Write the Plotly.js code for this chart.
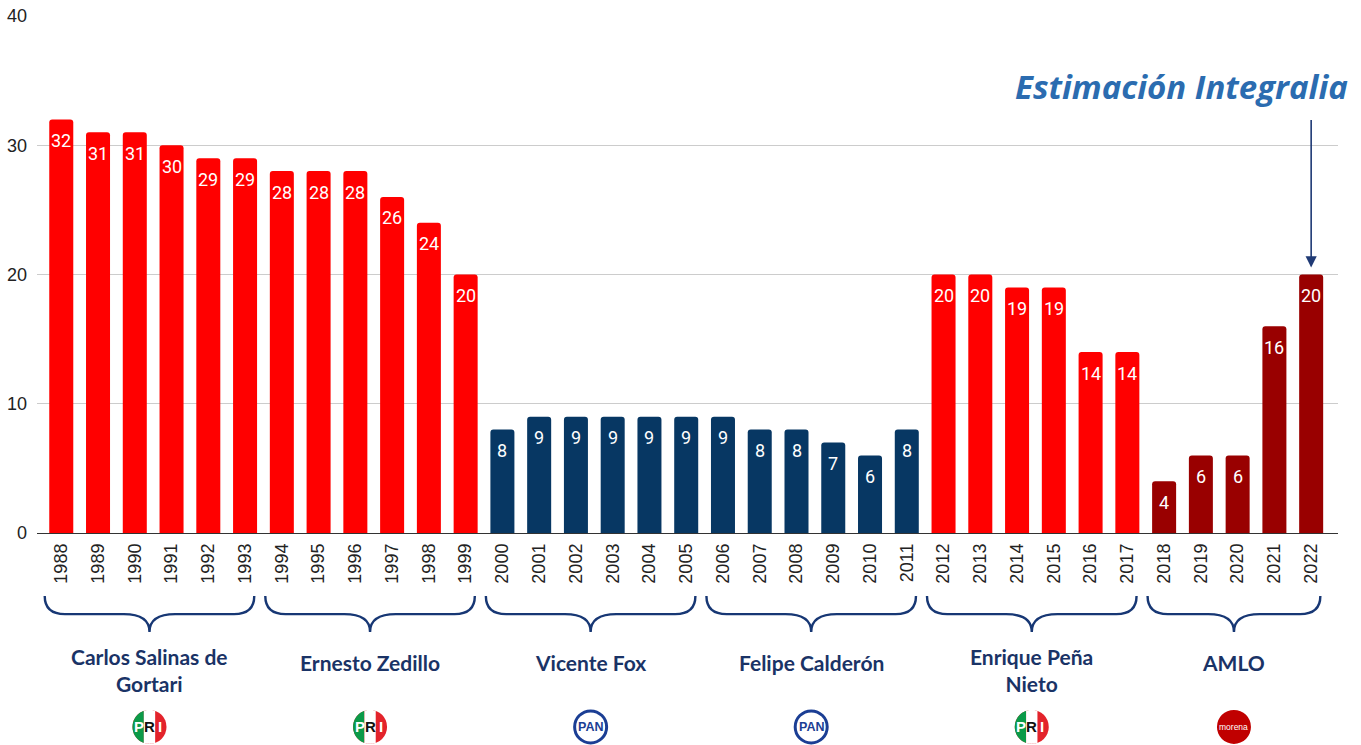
<!DOCTYPE html>
<html>
<head>
<meta charset="utf-8">
<script src="https://cdn.plot.ly/plotly-3.0.1.min.js"></script>
<style>html,body{margin:0;padding:0;background:#fff;}#chart{width:1361px;height:745px;}</style>
</head>
<body>
<div id="chart"></div>
<script>
// ---- data ----
var years = [1988,1989,1990,1991,1992,1993,1994,1995,1996,1997,1998,1999,
             2000,2001,2002,2003,2004,2005,2006,2007,2008,2009,2010,2011,
             2012,2013,2014,2015,2016,2017,2018,2019,2020,2021,2022];
var values = [32,31,31,30,29,29,28,28,28,26,24,20,
              8,9,9,9,9,9,9,8,8,7,6,8,
              20,20,19,19,14,14,4,6,6,16,20];
var parties = ['PRI','PRI','PRI','PRI','PRI','PRI','PRI','PRI','PRI','PRI','PRI','PRI',
               'PAN','PAN','PAN','PAN','PAN','PAN','PAN','PAN','PAN','PAN','PAN','PAN',
               'PRI','PRI','PRI','PRI','PRI','PRI','MORENA','MORENA','MORENA','MORENA','MORENA'];
var presidents = ['Carlos Salinas de<br>Gortari','Ernesto Zedillo','Vicente Fox','Felipe Calderón','Enrique Peña<br>Nieto','AMLO'];
var termStart = [1988,1994,2000,2006,2012,2018];
var termEnd   = [1993,1999,2005,2011,2017,2022];
var termParty = ['PRI','PRI','PAN','PAN','PRI','MORENA'];
var estimateYear = 2022;
var estimateLabel = 'Estimación Integralia';

// ---- styles ----
var partyColor = {PRI:'#ff0000', PAN:'#073763', MORENA:'#990000'};
var navy = '#1a3366';
var tickFont = {family:'"Liberation Sans", Arial, sans-serif', size:18, color:'#222222'};
var logoFont = '"Liberation Sans", Arial, sans-serif';

var barColors = parties.map(function(p){ return partyColor[p]; });

var trace = {
  type:'bar', x: years, y: values,
  marker:{color: barColors, cornerradius: 3},
  hoverinfo:'x+y'
};

var annotations = [];
// data labels
for (var i=0;i<years.length;i++){
  annotations.push({x: years[i], y: values[i], xref:'x', yref:'y', text: String(values[i]),
    showarrow:false, yshift:-21, yanchor:'middle', xanchor:'center',
    font:{family:'Roboto, "Liberation Sans", sans-serif', size:18, color:'#ffffff'}});
}

var shapes = [];
var yTop = -0.122, yMid = -0.157, yTip = -0.1915;
var labelY2 = -0.265, labelY1 = -0.250, logoY = -0.375;

function segPath(r, xa, xb){
  var a1 = Math.acos(Math.max(-1,Math.min(1,xb/r)));
  var a2 = Math.acos(Math.max(-1,Math.min(1,xa/r)));
  var pts = [], n = 24, k, t;
  for (k=0;k<=n;k++){ t = a1 + (a2-a1)*k/n; pts.push([r*Math.cos(t), r*Math.sin(t)]); }
  for (k=0;k<=n;k++){ t = -a2 + (a2-a1)*k/n; pts.push([r*Math.cos(t), r*Math.sin(t)]); }
  return 'M ' + pts.map(function(p){return p[0].toFixed(2)+','+p[1].toFixed(2);}).join(' L ') + ' Z';
}

for (var g=0; g<presidents.length; g++){
  var x0 = termStart[g] - 0.45, x1 = termEnd[g] + 0.25, xc = (x0 + x1)/2;
  var r = 0.55, r2 = 0.7;
  var path = 'M '+x0+','+yTop+' Q '+x0+','+yMid+' '+(x0+r)+','+yMid+
             ' L '+(xc-r2)+','+yMid+' Q '+xc+','+yMid+' '+xc+','+yTip+
             ' Q '+xc+','+yMid+' '+(xc+r2)+','+yMid+
             ' L '+(x1-r)+','+yMid+' Q '+x1+','+yMid+' '+x1+','+yTop;
  shapes.push({type:'path', xref:'x', yref:'paper', path:path, line:{color:'#173774', width:2.4}});
  var twoLines = presidents[g].indexOf('<br>') >= 0;
  annotations.push({x: xc, y: twoLines ? labelY2 : labelY1, xref:'x', yref:'paper', text:'<b>'+presidents[g]+'</b>',
    showarrow:false, xanchor:'center', yanchor:'middle', align:'center',
    font:{family:'Lato, sans-serif', size:21, color:navy}});
  // logos
  var R = 17;
  var base = {xref:'x', yref:'paper', xsizemode:'pixel', ysizemode:'pixel', xanchor: xc, yanchor: logoY};
  if (termParty[g]==='PRI'){
    shapes.push(Object.assign({}, base, {type:'circle', x0:-R, x1:R, y0:-R, y1:R, fillcolor:'#e3232b', line:{width:0}}));
    shapes.push(Object.assign({}, base, {type:'path', path: segPath(R, -R, -R/3), fillcolor:'#0b9a48', line:{width:0}}));
    shapes.push(Object.assign({}, base, {type:'path', path: segPath(R, -R/3, R/3), fillcolor:'#ffffff', line:{width:0}}));
    var letters = [['P',-10.5,'#ffffff'],['R',0,'#111111'],['I',10.5,'#ffffff']];
    letters.forEach(function(L){
      annotations.push({x: xc, y: logoY, xref:'x', yref:'paper', text:'<b>'+L[0]+'</b>', showarrow:false,
        xshift: L[1], yshift: 0, xanchor:'center', yanchor:'middle',
        font:{family:logoFont, size:15, color:L[2]}});
    });
  } else if (termParty[g]==='PAN'){
    shapes.push(Object.assign({}, base, {type:'circle', x0:-16, x1:16, y0:-16, y1:16, fillcolor:'#ffffff', line:{color:'#1b3e94', width:3}}));
    annotations.push({x: xc, y: logoY, xref:'x', yref:'paper', text:'<b>PAN</b>', showarrow:false, yshift:0,
      xanchor:'center', yanchor:'middle',
      font:{family:logoFont, size:12.5, color:'#1b3e94'}});
  } else {
    shapes.push(Object.assign({}, base, {type:'circle', x0:-R, x1:R, y0:-R, y1:R, fillcolor:'#c00000', line:{width:0}}));
    annotations.push({x: xc, y: logoY, xref:'x', yref:'paper', text:'morena', showarrow:false,
      xanchor:'center', yanchor:'middle',
      font:{family:logoFont, size:8.5, color:'#ffffff'}});
  }
}

// estimate arrow + label
var estIdx = years.indexOf(estimateYear);
annotations.push({x: estimateYear, y: values[estIdx], xref:'x', yref:'y', text:'', showarrow:true,
  ax:0, ay:-156, axref:'pixel', ayref:'pixel', standoff:7, arrowhead:2, arrowsize:1.4, arrowwidth:1.6, arrowcolor:'#1f3a75'});
annotations.push({x:1.0092, y:0.8627, xref:'paper', yref:'paper', text:'<i>'+estimateLabel+'</i>', showarrow:false,
  xanchor:'right', yanchor:'middle',
  font:{family:'"Open Sans", sans-serif', size:33, color:'#2b6cb0', weight:700}});

var layout = {
  width:1361, height:745,
  margin:{l:37, r:23, t:16, b:212},
  paper_bgcolor:'#ffffff', plot_bgcolor:'#ffffff',
  bargap:0.347,
  showlegend:false,
  xaxis:{type:'linear', range:[1987.34, 2022.73], tickmode:'array', tickvals: years, ticktext: years.map(String),
    tickangle:-90, showgrid:false, zeroline:false, showline:false, ticks:'', ticklabelstandoff:6,
    tickfont:tickFont, fixedrange:true},
  yaxis:{range:[0,40], tickvals:[0,10,20,30,40], showgrid:true, gridcolor:'#cccccc', gridwidth:1,
    zeroline:true, zerolinecolor:'#333333', zerolinewidth:1, showline:false, ticks:'', ticklabelstandoff:9,
    tickfont:tickFont, fixedrange:true},
  annotations: annotations,
  shapes: shapes
};

Plotly.newPlot('chart', [trace], layout, {displayModeBar:false, staticPlot:true});
</script>
</body>
</html>
